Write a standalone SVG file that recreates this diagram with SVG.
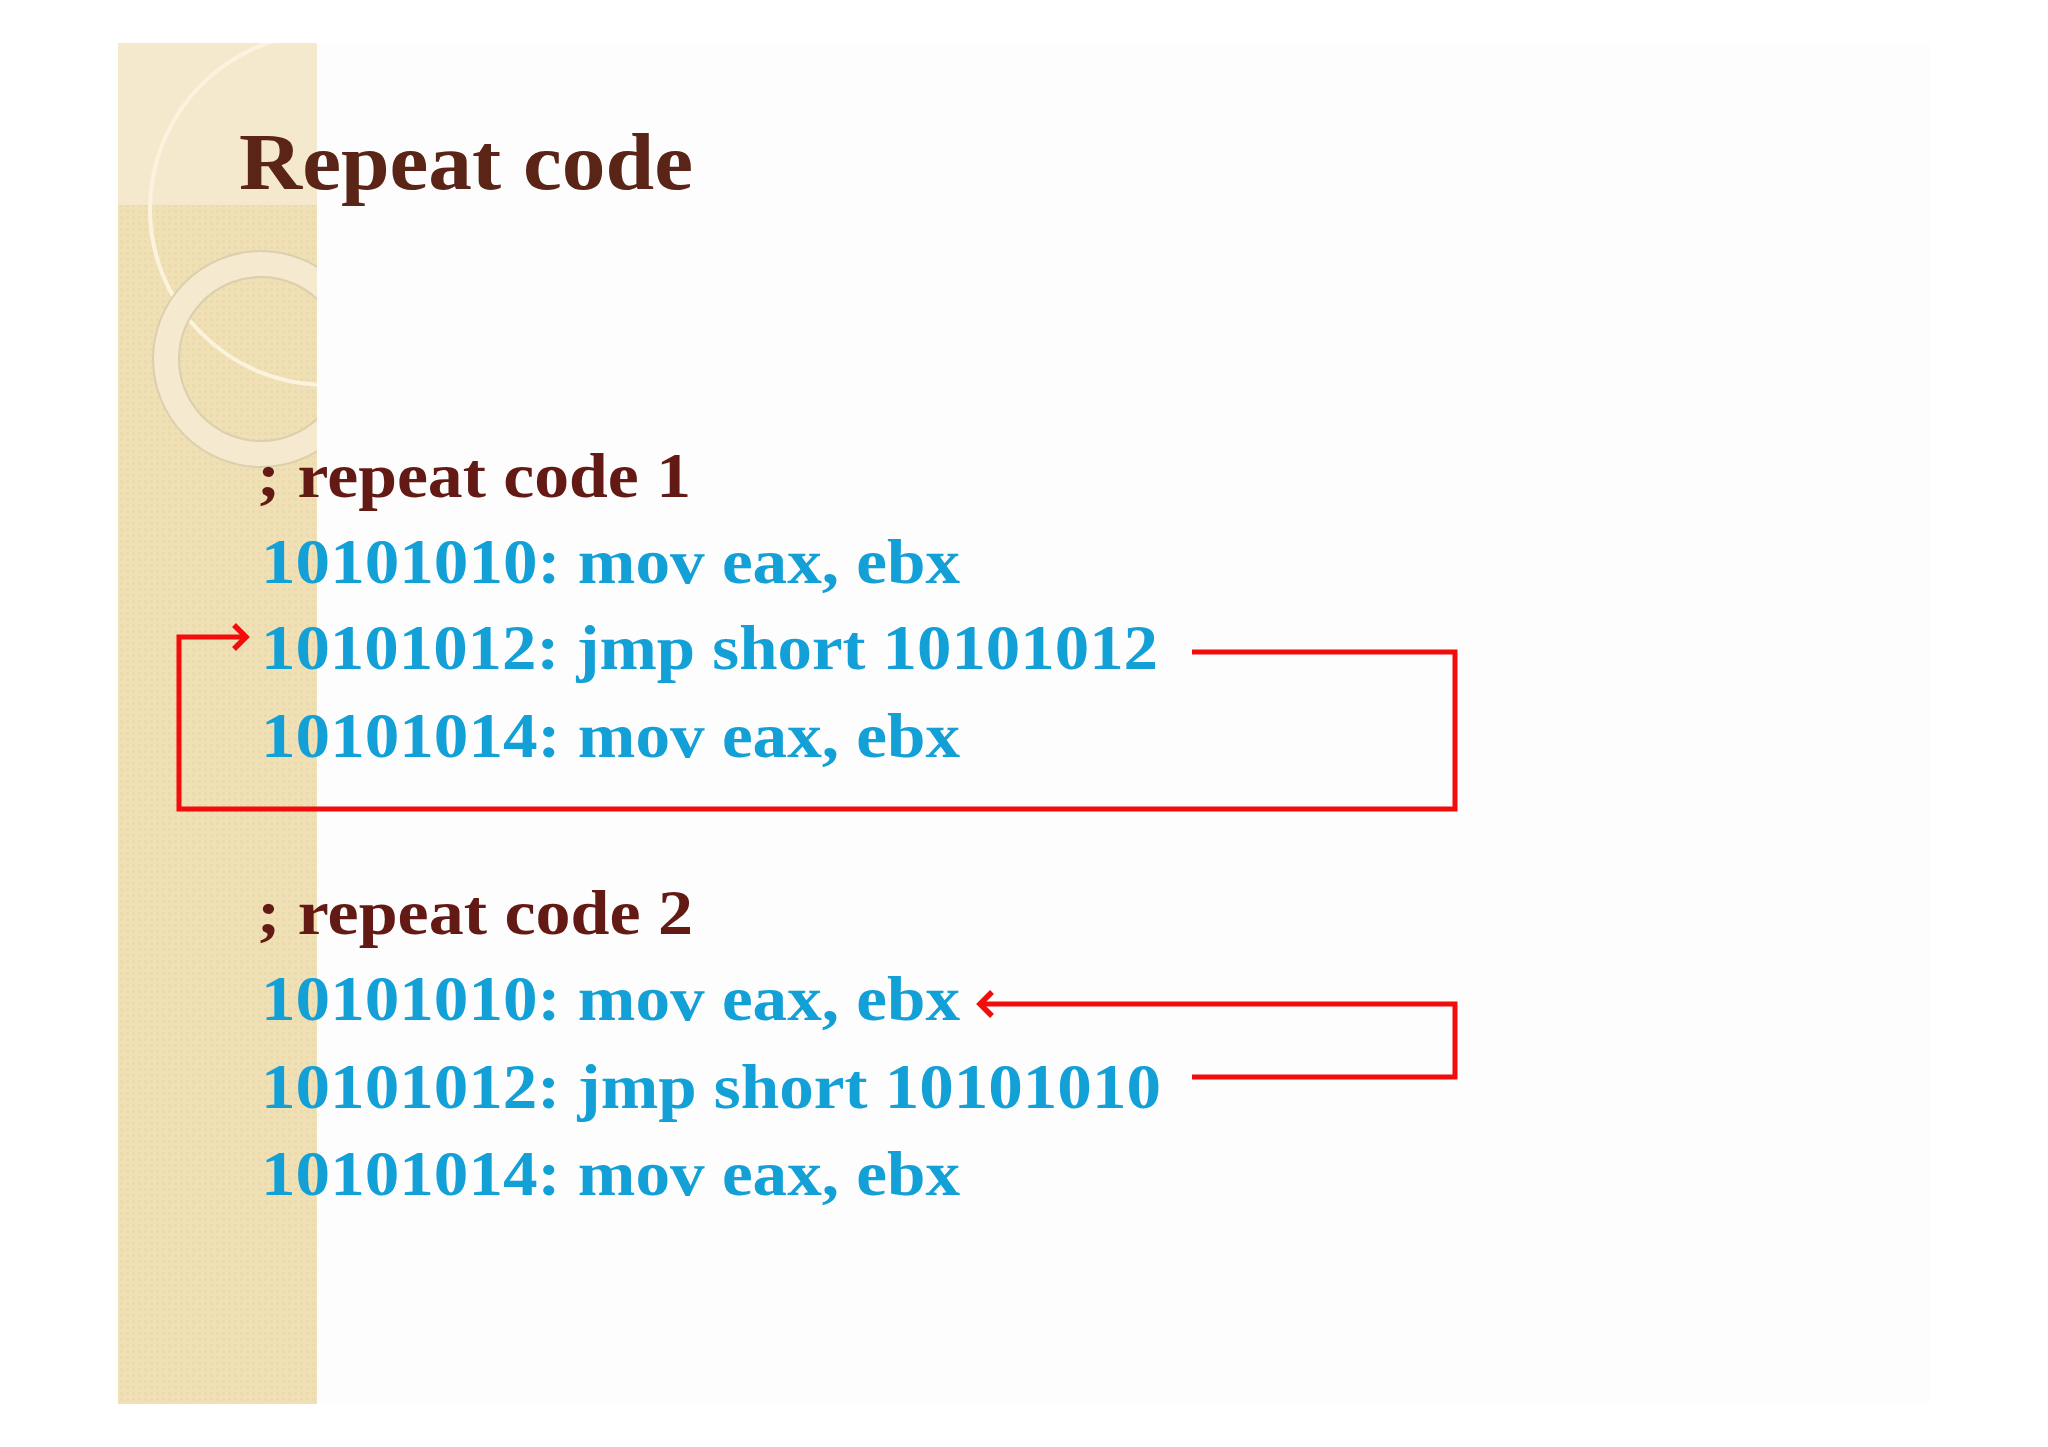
<svg xmlns="http://www.w3.org/2000/svg" width="2048" height="1447" viewBox="0 0 2048 1447">
<style>
.t{font-family:"Liberation Serif",serif;font-weight:bold}
.c{fill:#641a14;font-size:64px}
.b{fill:#12a0d7;font-size:64px}
.w{fill:none;stroke:#f20c0c;stroke-width:5}
</style>
<defs>
<marker id="ah2" markerWidth="40" markerHeight="40" refX="28" refY="20" orient="auto" markerUnits="userSpaceOnUse" viewBox="0 0 40 40"><path d="M16,8 L28,20 L16,32" fill="none" stroke="#f20c0c" stroke-width="5.5"/></marker>
<clipPath id="bc"><rect x="118" y="43" width="199" height="1361"/></clipPath>
<pattern id="pt" width="6" height="6" patternUnits="userSpaceOnUse"><rect width="6" height="6" fill="#f0e0b6"/><rect width="3" height="3" fill="#eadaae"/></pattern>
</defs>
<rect width="2048" height="1447" fill="#ffffff"/>
<rect x="118" y="43" width="1812" height="1361" fill="#fdfdfd"/>
<g id="band">
<rect x="118" y="43" width="199" height="1361" fill="url(#pt)"/>
<g clip-path="url(#bc)">
<rect x="118" y="43" width="199" height="162" fill="#f4e9cc"/>
<circle cx="326" cy="209" r="176" fill="none" stroke="#fbf3de" stroke-width="4"/>
<circle cx="261" cy="359" r="95" fill="none" stroke="#f5ead0" stroke-width="24"/>
<circle cx="261" cy="359" r="108" fill="none" stroke="#dccfae" stroke-width="2"/>
<circle cx="261" cy="359" r="82" fill="none" stroke="#dccfae" stroke-width="2"/>
</g>
</g>
<g id="title"><text class="t" x="239" y="189" font-size="80" fill="#5a2416" textLength="454" lengthAdjust="spacingAndGlyphs">Repeat code</text></g>
<g id="block1">
<text class="t c" x="257" y="497" textLength="434" lengthAdjust="spacingAndGlyphs">; repeat code 1</text>
<text class="t b" x="261" y="583" textLength="699" lengthAdjust="spacingAndGlyphs">10101010: mov eax, ebx</text>
<text class="t b" x="261" y="669" textLength="897" lengthAdjust="spacingAndGlyphs">10101012: jmp short 10101012</text>
<text class="t b" x="261" y="757" textLength="699" lengthAdjust="spacingAndGlyphs">10101014: mov eax, ebx</text>
</g>
<g id="block2">
<text class="t c" x="257" y="934" textLength="436" lengthAdjust="spacingAndGlyphs">; repeat code 2</text>
<text class="t b" x="261" y="1020" textLength="699" lengthAdjust="spacingAndGlyphs">10101010: mov eax, ebx</text>
<text class="t b" x="261" y="1108" textLength="900" lengthAdjust="spacingAndGlyphs">10101012: jmp short 10101010</text>
<text class="t b" x="261" y="1195" textLength="699" lengthAdjust="spacingAndGlyphs">10101014: mov eax, ebx</text>
</g>
<g id="connectors">
<path class="w" d="M1192,652 H1455 V809 H179 V637 H246" marker-end="url(#ah2)"/>
<path class="w" d="M1192,1077 H1455 V1004 H980" marker-end="url(#ah2)"/>
</g>
</svg>
